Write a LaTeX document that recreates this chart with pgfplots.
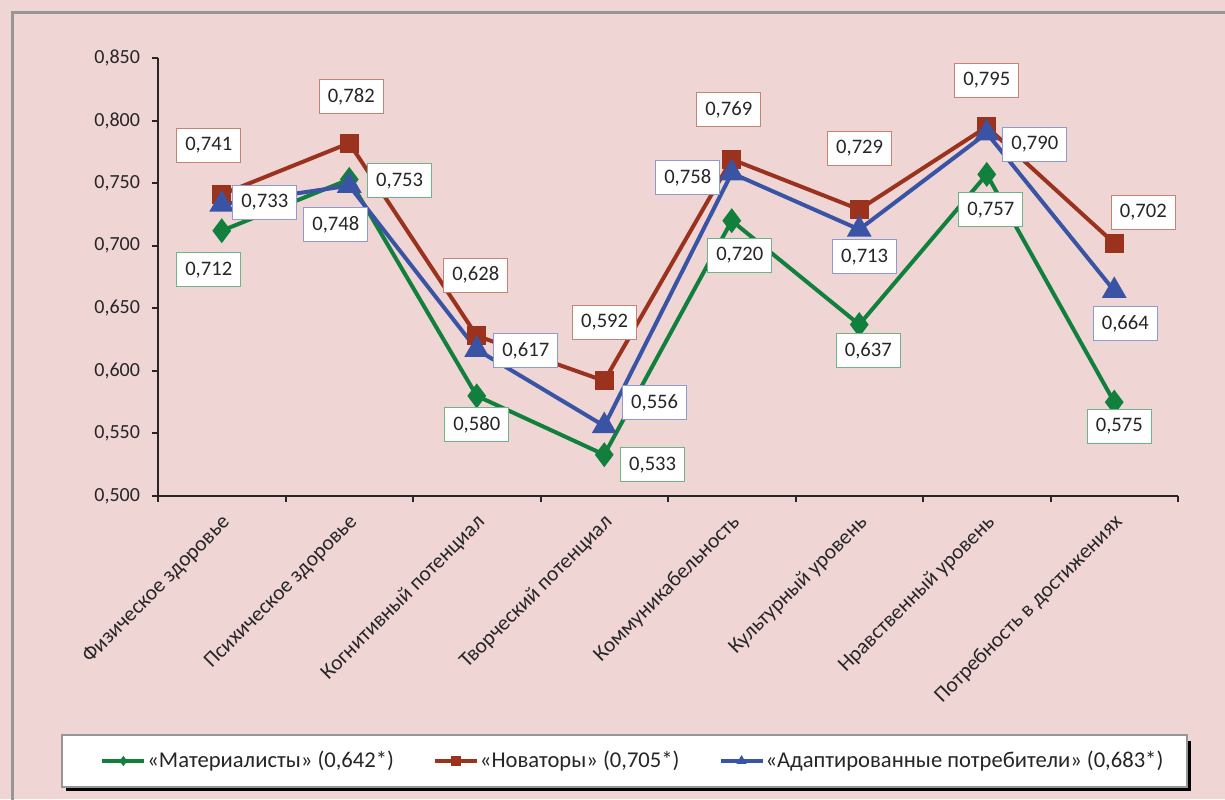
\documentclass[border=0pt]{standalone}
\usepackage{fontspec}
\setmainfont{Carlito}
\usepackage{pgfplots}
\pgfplotsset{compat=1.18}
\usepackage{pgfplotstable}

\definecolor{bg}{RGB}{240,213,213}
\definecolor{frame}{RGB}{150,150,150}
\definecolor{cg}{RGB}{16,128,60}
\definecolor{cr}{RGB}{155,50,30}
\definecolor{cb}{RGB}{58,84,165}
\definecolor{lg}{RGB}{110,180,135}
\definecolor{lr}{RGB}{200,130,115}
\definecolor{lb}{RGB}{140,155,210}
\definecolor{txt}{RGB}{38,38,38}

\pgfplotstableread{
x y dx dy
0 0.712 -6.5 -19.6
1 0.753 25.2 -0.8
2 0.580 0 -14.5
3 0.533 24.2 -5.1
4 0.720 4 -17.4
5 0.637 4.5 -13.2
6 0.757 2 -17.8
7 0.575 2.5 -12
}\matdata

\pgfplotstableread{
x y dx dy
0 0.741 -6.5 24.7
1 0.782 1 23.3
2 0.628 -0.5 30.4
3 0.592 0.2 29.4
4 0.769 -1.5 24.7
5 0.729 0.2 30.4
6 0.795 0 23.4
7 0.702 14.5 15.3
}\novdata

\pgfplotstableread{
x y dx dy
0 0.733 21.5 0.9
1 0.748 -6.7 -19.6
2 0.617 24.5 -0.7
3 0.556 25.2 11.7
4 0.758 -22 -2.4
5 0.713 2.7 -13.7
6 0.790 24 -5.7
7 0.664 5.5 -16.6
}\adadata

\begin{document}
\begin{tikzpicture}
\useasboundingbox (0,0) rectangle (612.5pt,399.5pt);
\fill[bg] (0,0) rectangle (612.5pt,399.5pt);
\draw[frame, line width=1.5pt] (6pt,-2pt) -- (6pt,393pt) -- (615pt,393pt);
% legend box
\fill[black] (33pt,3.8pt) rectangle (595.5pt,29pt);
\draw[frame, fill=white, line width=1pt] (31pt,6pt) rectangle (593.5pt,32pt);
\begin{axis}[
  scale only axis,
  width=510pt, height=219pt,
  at={(79pt,151.5pt)}, anchor=south west,
  xmin=-0.5, xmax=7.5, ymin=0.5, ymax=0.85,
  clip=false,
  axis x line*=bottom, axis y line*=left,
  axis line style={txt, line width=1pt},
  every tick/.style={txt, line width=1pt},
  tick align=outside,
  major tick length=3pt,
  xtick={-0.5,0.5,1.5,2.5,3.5,4.5,5.5,6.5,7.5},
  xticklabels={},
  extra x ticks={0,1,2,3,4,5,6,7},
  extra x tick labels={Физическое здоровье,Психическое здоровье,Когнитивный потенциал,Творческий потенциал,Коммуникабельность,Культурный уровень,Нравственный уровень,Потребность в достижениях},
  extra x tick style={major tick length=0pt, tick label style={rotate=45, anchor=east, font=\fontsize{10.7}{12}\selectfont, text=txt, xshift=-3pt, yshift=-10pt}},
  ytick={0.5,0.55,0.6,0.65,0.7,0.75,0.8,0.85},
  yticklabel style={font=\fontsize{10}{12}\selectfont, text=txt, xshift=-2.5pt, /pgf/number format/.cd, fixed, fixed zerofill, precision=3, use comma, assume math mode=true},
  legend style={at={(axis description cs:-0.0569,-0.605)}, anchor=west, draw=none, fill=none,
    font=\fontsize{11.3}{13}\selectfont, text=txt, legend columns=3, inner sep=0pt,
    nodes={inner xsep=0.5pt},
    /tikz/every even column/.append style={column sep=19pt}},
  legend image code/.code={\draw[#1, mark repeat=2, mark phase=2] plot coordinates {(0pt,0pt) (10.5pt,0pt) (21pt,0pt)};},
  vis/.style={visualization depends on={\thisrow{dx} \as \dx},
    visualization depends on={\thisrow{dy} \as \dy},
    draw=none, mark=none, forget plot,
    nodes near coords={\pgfmathprintnumber[fixed,fixed zerofill,precision=3,use comma,assume math mode=true]{\pgfplotspointmeta}},
    every node near coord/.append style={anchor=center, xshift=\dx pt, yshift=\dy pt, fill=white, line width=0.5pt,
      minimum width=32pt, minimum height=17pt, inner sep=0pt, text=txt, font=\fontsize{10.3}{12}\selectfont}},
]
\addlegendimage{cg, line width=2pt, mark=diamond*, mark options={solid, scale=0.45}}
\addlegendentry{«Материалисты» (0,642*)}
\addlegendimage{cr, line width=2pt, mark=square*, mark options={solid, scale=0.75}}
\addlegendentry{«Новаторы» (0,705*)}
\addlegendimage{cb, line width=2pt, mark=triangle*, mark options={solid, scale=0.5}}
\addlegendentry{«Адаптированные потребители» (0,683*)}
\addplot[cg, line width=2pt, mark=diamond*, mark size=4.6pt, forget plot] table[x=x,y=y] {\matdata};
\addplot[cr, line width=2pt, mark=square*, mark size=3.8pt, forget plot] table[x=x,y=y] {\novdata};
\addplot[cb, line width=2pt, mark=triangle*, mark size=5.2pt, forget plot] table[x=x,y=y] {\adadata};
\addplot[vis, every node near coord/.append style={draw=lg}] table[x=x,y=y] {\matdata};
\addplot[vis, every node near coord/.append style={draw=lr}] table[x=x,y=y] {\novdata};
\addplot[vis, every node near coord/.append style={draw=lb}] table[x=x,y=y] {\adadata};
\end{axis}
\end{tikzpicture}
\end{document}
